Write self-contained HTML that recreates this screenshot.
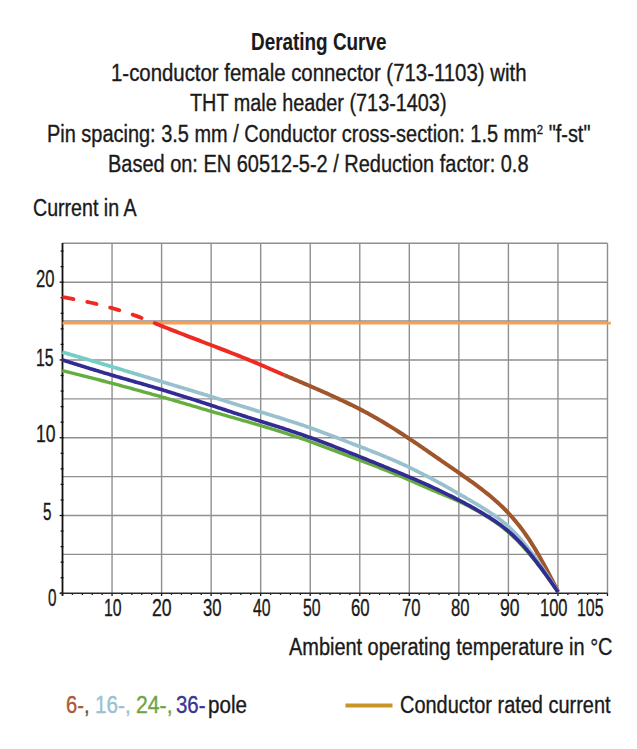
<!DOCTYPE html>
<html><head><meta charset="utf-8"><style>
html,body{margin:0;padding:0;background:#fff;}
body{width:637px;height:749px;overflow:hidden;font-family:"Liberation Sans",sans-serif;}
svg{display:block;}
</style></head><body>
<svg width="637" height="749" viewBox="0 0 637 749">
<defs><linearGradient id="lbg" gradientUnits="userSpaceOnUse" x1="120" y1="0" x2="150" y2="0"><stop offset="0" stop-color="#74cdc6"/><stop offset="1" stop-color="#98c0cf"/></linearGradient></defs>
<g stroke="#8f8f8f" stroke-width="1.4"><line x1="62.5" y1="554.41" x2="607.5" y2="554.41"/><line x1="62.5" y1="515.52" x2="607.5" y2="515.52"/><line x1="62.5" y1="476.63" x2="607.5" y2="476.63"/><line x1="62.5" y1="437.74" x2="607.5" y2="437.74"/><line x1="62.5" y1="398.85" x2="607.5" y2="398.85"/><line x1="62.5" y1="359.96" x2="607.5" y2="359.96"/><line x1="62.5" y1="321.07" x2="607.5" y2="321.07"/><line x1="62.5" y1="282.18" x2="607.5" y2="282.18"/><line x1="62.5" y1="243.29" x2="607.5" y2="243.29"/><line x1="112.05" y1="243.3" x2="112.05" y2="593.3"/><line x1="161.59" y1="243.3" x2="161.59" y2="593.3"/><line x1="211.14" y1="243.3" x2="211.14" y2="593.3"/><line x1="260.68" y1="243.3" x2="260.68" y2="593.3"/><line x1="310.23" y1="243.3" x2="310.23" y2="593.3"/><line x1="359.77" y1="243.3" x2="359.77" y2="593.3"/><line x1="409.31" y1="243.3" x2="409.31" y2="593.3"/><line x1="458.86" y1="243.3" x2="458.86" y2="593.3"/><line x1="508.41" y1="243.3" x2="508.41" y2="593.3"/><line x1="557.95" y1="243.3" x2="557.95" y2="593.3"/><line x1="607.50" y1="243.3" x2="607.50" y2="593.3"/></g>
<g stroke="#111" stroke-width="1.3"><line x1="59.60" y1="593.30" x2="63.5" y2="593.30"/><line x1="60.60" y1="577.74" x2="63.5" y2="577.74"/><line x1="60.60" y1="562.19" x2="63.5" y2="562.19"/><line x1="60.60" y1="546.63" x2="63.5" y2="546.63"/><line x1="60.60" y1="531.08" x2="63.5" y2="531.08"/><line x1="59.60" y1="515.52" x2="63.5" y2="515.52"/><line x1="60.60" y1="499.96" x2="63.5" y2="499.96"/><line x1="60.60" y1="484.41" x2="63.5" y2="484.41"/><line x1="60.60" y1="468.85" x2="63.5" y2="468.85"/><line x1="60.60" y1="453.30" x2="63.5" y2="453.30"/><line x1="59.60" y1="437.74" x2="63.5" y2="437.74"/><line x1="60.60" y1="422.18" x2="63.5" y2="422.18"/><line x1="60.60" y1="406.63" x2="63.5" y2="406.63"/><line x1="60.60" y1="391.07" x2="63.5" y2="391.07"/><line x1="60.60" y1="375.52" x2="63.5" y2="375.52"/><line x1="59.60" y1="359.96" x2="63.5" y2="359.96"/><line x1="60.60" y1="344.40" x2="63.5" y2="344.40"/><line x1="60.60" y1="328.85" x2="63.5" y2="328.85"/><line x1="60.60" y1="313.29" x2="63.5" y2="313.29"/><line x1="60.60" y1="297.74" x2="63.5" y2="297.74"/><line x1="59.60" y1="282.18" x2="63.5" y2="282.18"/><line x1="60.60" y1="266.62" x2="63.5" y2="266.62"/><line x1="60.60" y1="251.07" x2="63.5" y2="251.07"/><line x1="62.50" y1="593.3" x2="62.50" y2="596.00"/><line x1="72.41" y1="593.3" x2="72.41" y2="594.90"/><line x1="82.32" y1="593.3" x2="82.32" y2="594.90"/><line x1="92.23" y1="593.3" x2="92.23" y2="594.90"/><line x1="102.14" y1="593.3" x2="102.14" y2="594.90"/><line x1="112.05" y1="593.3" x2="112.05" y2="596.00"/><line x1="121.95" y1="593.3" x2="121.95" y2="594.90"/><line x1="131.86" y1="593.3" x2="131.86" y2="594.90"/><line x1="141.77" y1="593.3" x2="141.77" y2="594.90"/><line x1="151.68" y1="593.3" x2="151.68" y2="594.90"/><line x1="161.59" y1="593.3" x2="161.59" y2="596.00"/><line x1="171.50" y1="593.3" x2="171.50" y2="594.90"/><line x1="181.41" y1="593.3" x2="181.41" y2="594.90"/><line x1="191.32" y1="593.3" x2="191.32" y2="594.90"/><line x1="201.23" y1="593.3" x2="201.23" y2="594.90"/><line x1="211.14" y1="593.3" x2="211.14" y2="596.00"/><line x1="221.04" y1="593.3" x2="221.04" y2="594.90"/><line x1="230.95" y1="593.3" x2="230.95" y2="594.90"/><line x1="240.86" y1="593.3" x2="240.86" y2="594.90"/><line x1="250.77" y1="593.3" x2="250.77" y2="594.90"/><line x1="260.68" y1="593.3" x2="260.68" y2="596.00"/><line x1="270.59" y1="593.3" x2="270.59" y2="594.90"/><line x1="280.50" y1="593.3" x2="280.50" y2="594.90"/><line x1="290.41" y1="593.3" x2="290.41" y2="594.90"/><line x1="300.32" y1="593.3" x2="300.32" y2="594.90"/><line x1="310.23" y1="593.3" x2="310.23" y2="596.00"/><line x1="320.13" y1="593.3" x2="320.13" y2="594.90"/><line x1="330.04" y1="593.3" x2="330.04" y2="594.90"/><line x1="339.95" y1="593.3" x2="339.95" y2="594.90"/><line x1="349.86" y1="593.3" x2="349.86" y2="594.90"/><line x1="359.77" y1="593.3" x2="359.77" y2="596.00"/><line x1="369.68" y1="593.3" x2="369.68" y2="594.90"/><line x1="379.59" y1="593.3" x2="379.59" y2="594.90"/><line x1="389.50" y1="593.3" x2="389.50" y2="594.90"/><line x1="399.41" y1="593.3" x2="399.41" y2="594.90"/><line x1="409.31" y1="593.3" x2="409.31" y2="596.00"/><line x1="419.22" y1="593.3" x2="419.22" y2="594.90"/><line x1="429.13" y1="593.3" x2="429.13" y2="594.90"/><line x1="439.04" y1="593.3" x2="439.04" y2="594.90"/><line x1="448.95" y1="593.3" x2="448.95" y2="594.90"/><line x1="458.86" y1="593.3" x2="458.86" y2="596.00"/><line x1="468.77" y1="593.3" x2="468.77" y2="594.90"/><line x1="478.68" y1="593.3" x2="478.68" y2="594.90"/><line x1="488.59" y1="593.3" x2="488.59" y2="594.90"/><line x1="498.50" y1="593.3" x2="498.50" y2="594.90"/><line x1="508.41" y1="593.3" x2="508.41" y2="596.00"/><line x1="518.31" y1="593.3" x2="518.31" y2="594.90"/><line x1="528.22" y1="593.3" x2="528.22" y2="594.90"/><line x1="538.13" y1="593.3" x2="538.13" y2="594.90"/><line x1="548.04" y1="593.3" x2="548.04" y2="594.90"/><line x1="557.95" y1="593.3" x2="557.95" y2="596.00"/><line x1="567.86" y1="593.3" x2="567.86" y2="594.90"/><line x1="577.77" y1="593.3" x2="577.77" y2="594.90"/><line x1="587.68" y1="593.3" x2="587.68" y2="594.90"/><line x1="597.59" y1="593.3" x2="597.59" y2="594.90"/><line x1="607.50" y1="593.3" x2="607.50" y2="596.00"/></g>
<line x1="62.5" y1="243" x2="62.5" y2="595.5" stroke="#111" stroke-width="1.8"/>
<line x1="60" y1="593.3" x2="607.6" y2="593.3" stroke="#2a2a2a" stroke-width="1.6"/>
<line x1="62.5" y1="323.1" x2="610.8" y2="323.1" stroke="#f7a052" stroke-width="2.6"/>
<path d="M62.30,370.69 L64.30,371.19 L66.30,371.69 L68.30,372.18 L70.30,372.68 L72.30,373.18 L74.30,373.67 L76.30,374.17 L78.30,374.67 L80.30,375.17 L82.30,375.67 L84.30,376.17 L86.30,376.67 L88.30,377.18 L90.30,377.68 L92.30,378.19 L94.30,378.70 L96.30,379.21 L98.30,379.72 L100.30,380.23 L102.30,380.75 L104.30,381.26 L106.30,381.78 L108.30,382.31 L110.30,382.83 L112.30,383.36 L114.30,383.89 L116.30,384.42 L118.30,384.95 L120.30,385.49 L122.30,386.03 L124.30,386.57 L126.30,387.11 L128.30,387.65 L130.30,388.20 L132.30,388.75 L134.30,389.29 L136.30,389.84 L138.30,390.39 L140.30,390.95 L142.30,391.50 L144.30,392.05 L146.30,392.60 L148.30,393.16 L150.30,393.71 L152.30,394.27 L154.30,394.82 L156.30,395.38 L158.30,395.94 L160.30,396.50 L162.30,397.06 L164.30,397.63 L166.30,398.20 L168.30,398.78 L170.30,399.35 L172.30,399.93 L174.30,400.51 L176.30,401.10 L178.30,401.68 L180.30,402.27 L182.30,402.86 L184.30,403.45 L186.30,404.04 L188.30,404.63 L190.30,405.22 L192.30,405.81 L194.30,406.40 L196.30,406.99 L198.30,407.58 L200.30,408.17 L202.30,408.76 L204.30,409.35 L206.30,409.93 L208.30,410.52 L210.30,411.10 L212.30,411.68 L214.30,412.26 L216.30,412.84 L218.30,413.41 L220.30,413.99 L222.30,414.56 L224.30,415.13 L226.30,415.70 L228.30,416.27 L230.30,416.84 L232.30,417.41 L234.30,417.98 L236.30,418.55 L238.30,419.12 L240.30,419.69 L242.30,420.26 L244.30,420.83 L246.30,421.41 L248.30,421.98 L250.30,422.56 L252.30,423.13 L254.30,423.71 L256.30,424.30 L258.30,424.88 L260.30,425.47 L262.30,426.06 L264.30,426.65 L266.30,427.25 L268.30,427.85 L270.30,428.46 L272.30,429.07 L274.30,429.68 L276.30,430.30 L278.30,430.93 L280.30,431.56 L282.30,432.19 L284.30,432.83 L286.30,433.47 L288.30,434.12 L290.30,434.77 L292.30,435.43 L294.30,436.10 L296.30,436.77 L298.30,437.45 L300.30,438.13 L302.30,438.82 L304.30,439.51 L306.30,440.22 L308.30,440.93 L310.30,441.64 L312.30,442.37 L314.30,443.09 L316.30,443.83 L318.30,444.57 L320.30,445.32 L322.30,446.07 L324.30,446.82 L326.30,447.58 L328.30,448.33 L330.30,449.10 L332.30,449.86 L334.30,450.62 L336.30,451.38 L338.30,452.15 L340.30,452.91 L342.30,453.67 L344.30,454.43 L346.30,455.18 L348.30,455.93 L350.30,456.68 L352.30,457.43 L354.30,458.17 L356.30,458.91 L358.30,459.65 L360.30,460.40 L362.30,461.15 L364.30,461.90 L366.30,462.65 L368.30,463.41 L370.30,464.17 L372.30,464.94 L374.30,465.71 L376.30,466.49 L378.30,467.27 L380.30,468.05 L382.30,468.84 L384.30,469.64 L386.30,470.44 L388.30,471.24 L390.30,472.05 L392.30,472.87 L394.30,473.69 L396.30,474.52 L398.30,475.36 L400.30,476.20 L402.30,477.04 L404.30,477.90 L406.30,478.76 L408.30,479.62 L410.30,480.50 L412.30,481.37 L414.30,482.26 L416.30,483.15 L418.30,484.03 L420.30,484.92 L422.30,485.81 L424.30,486.68 L426.30,487.56 L428.30,488.42 L430.30,489.28 L432.30,490.12 L434.30,490.96 L436.30,491.79 L438.30,492.62 L440.30,493.44 L442.30,494.27 L444.30,495.09 L446.30,495.93 L448.30,496.77 L450.30,497.62 L452.30,498.49 L454.30,499.37 L456.30,500.26 L458.30,501.18 L460.30,502.12 L462.30,503.07 L464.30,504.05 L466.30,505.05 L468.30,506.07 L470.30,507.11 L472.30,508.17 L474.30,509.25 L476.30,510.36 L478.30,511.48 L480.30,512.63 L482.30,513.81 L484.30,515.00 L486.30,516.22 L488.30,517.47 L490.30,518.75 L492.30,520.06 L494.30,521.41 L496.30,522.80 L498.30,524.23 L500.30,525.71 L502.30,527.25 L504.30,528.83 L506.30,530.48 L508.30,532.18 L510.30,533.95 L512.30,535.79 L514.30,537.69 L516.30,539.65 L518.30,541.67 L520.30,543.76 L522.30,545.90 L524.30,548.11 L526.30,550.37 L528.30,552.70 L530.30,555.08 L532.30,557.51 L534.30,559.99 L536.30,562.52 L538.30,565.09 L540.30,567.70 L542.30,570.34 L544.30,573.02 L546.30,575.73 L548.30,578.46 L550.30,581.22 L552.30,583.99 L554.30,586.77 L556.30,589.56 L558.10,592.08" fill="none" stroke="#64ae40" stroke-width="3.4"/>
<path d="M62.20,296.93 L64.20,297.29 L66.20,297.66 L68.20,298.03 L70.20,298.41 L72.20,298.79 L74.20,299.17 L76.20,299.56 L78.20,299.96 L80.20,300.37 L82.20,300.78 L84.20,301.20 L86.20,301.63 L88.20,302.07 L90.20,302.52 L92.20,302.98 L94.20,303.45 L96.20,303.93 L98.20,304.42 L100.20,304.92 L102.20,305.43 L104.20,305.96 L106.20,306.49 L108.20,307.04 L110.20,307.60 L112.20,308.17 L114.20,308.74 L116.20,309.33 L118.20,309.94 L120.20,310.55 L122.20,311.17 L124.20,311.81 L126.20,312.46 L128.20,313.12 L130.20,313.80 L132.20,314.49 L134.20,315.19 L136.20,315.91 L138.20,316.65 L140.20,317.40 L142.20,318.16 L144.20,318.93 L146.20,319.72 L148.20,320.51 L150.20,321.31 L152.20,322.12 L154.20,322.92 L156.20,323.73" fill="none" stroke="#ee2a22" stroke-width="3.8" stroke-linecap="round" stroke-dasharray="9.6,14" stroke-dashoffset="-1.9"/>
<path d="M156.20,323.73 L158.20,324.54 L160.20,325.34 L162.20,326.14 L164.20,326.94 L166.20,327.74 L168.20,328.53 L170.20,329.32 L172.20,330.11 L174.20,330.89 L176.20,331.68 L178.20,332.46 L180.20,333.23 L182.20,334.01 L184.20,334.78 L186.20,335.56 L188.20,336.33 L190.20,337.10 L192.20,337.87 L194.20,338.63 L196.20,339.40 L198.20,340.17 L200.20,340.93 L202.20,341.70 L204.20,342.46 L206.20,343.22 L208.20,343.99 L210.20,344.75 L212.20,345.52 L214.20,346.28 L216.20,347.05 L218.20,347.82 L220.20,348.59 L222.20,349.36 L224.20,350.13 L226.20,350.90 L228.20,351.68 L230.20,352.46 L232.20,353.24 L234.20,354.02 L236.20,354.81 L238.20,355.60 L240.20,356.40 L242.20,357.20 L244.20,358.00 L246.20,358.81 L248.20,359.62 L250.20,360.44 L252.20,361.26 L254.20,362.09 L256.20,362.92 L258.20,363.76 L260.20,364.61 L262.20,365.47 L264.20,366.32 L266.20,367.19 L268.20,368.06 L270.20,368.93 L272.20,369.80 L274.20,370.68 L276.20,371.55 L278.20,372.43 L280.20,373.30 L282.20,374.17 L284.20,375.03" fill="none" stroke="#ee2a22" stroke-width="3.9"/>
<path d="M284.20,375.03 L286.20,375.90 L288.20,376.75 L290.20,377.61 L292.20,378.46 L294.20,379.30 L296.20,380.15 L298.20,381.00 L300.20,381.84 L302.20,382.69 L304.20,383.54 L306.20,384.39 L308.20,385.25 L310.20,386.11 L312.20,386.97 L314.20,387.84 L316.20,388.71 L318.20,389.59 L320.20,390.47 L322.20,391.36 L324.20,392.25 L326.20,393.15 L328.20,394.05 L330.20,394.96 L332.20,395.87 L334.20,396.79 L336.20,397.71 L338.20,398.64 L340.20,399.57 L342.20,400.51 L344.20,401.45 L346.20,402.40 L348.20,403.36 L350.20,404.33 L352.20,405.31 L354.20,406.30 L356.20,407.31 L358.20,408.32 L360.20,409.35 L362.20,410.39 L364.20,411.44 L366.20,412.51 L368.20,413.60 L370.20,414.69 L372.20,415.80 L374.20,416.93 L376.20,418.07 L378.20,419.22 L380.20,420.38 L382.20,421.56 L384.20,422.75 L386.20,423.96 L388.20,425.18 L390.20,426.41 L392.20,427.65 L394.20,428.90 L396.20,430.17 L398.20,431.44 L400.20,432.73 L402.20,434.03 L404.20,435.33 L406.20,436.65 L408.20,437.97 L410.20,439.31 L412.20,440.65 L414.20,442.00 L416.20,443.36 L418.20,444.72 L420.20,446.09 L422.20,447.46 L424.20,448.84 L426.20,450.22 L428.20,451.60 L430.20,452.98 L432.20,454.36 L434.20,455.75 L436.20,457.13 L438.20,458.51 L440.20,459.90 L442.20,461.28 L444.20,462.66 L446.20,464.03 L448.20,465.41 L450.20,466.79 L452.20,468.17 L454.20,469.55 L456.20,470.93 L458.20,472.32 L460.20,473.71 L462.20,475.11 L464.20,476.52 L466.20,477.93 L468.20,479.36 L470.20,480.79 L472.20,482.24 L474.20,483.69 L476.20,485.17 L478.20,486.65 L480.20,488.16 L482.20,489.69 L484.20,491.24 L486.20,492.82 L488.20,494.43 L490.20,496.07 L492.20,497.74 L494.20,499.46 L496.20,501.22 L498.20,503.02 L500.20,504.87 L502.20,506.78 L504.20,508.75 L506.20,510.77 L508.20,512.87 L510.20,515.03 L512.20,517.26 L514.20,519.58 L516.20,521.97 L518.20,524.44 L520.20,527.00 L522.20,529.65 L524.20,532.40 L526.20,535.24 L528.20,538.18 L530.20,541.21 L532.20,544.34 L534.20,547.57 L536.20,550.89 L538.20,554.30 L540.20,557.79 L542.20,561.36 L544.20,565.01 L546.20,568.72 L548.20,572.49 L550.20,576.31 L552.20,580.17 L554.20,584.07 L556.20,588.00 L558.10,591.74" fill="none" stroke="#a0552a" stroke-width="4.0"/>
<path d="M62.30,352.10 L64.30,352.68 L66.30,353.27 L68.30,353.86 L70.30,354.44 L72.30,355.03 L74.30,355.61 L76.30,356.20 L78.30,356.79 L80.30,357.37 L82.30,357.96 L84.30,358.55 L86.30,359.14 L88.30,359.72 L90.30,360.31 L92.30,360.90 L94.30,361.49 L96.30,362.08 L98.30,362.67 L100.30,363.26 L102.30,363.86 L104.30,364.45 L106.30,365.04 L108.30,365.64 L110.30,366.23 L112.30,366.83 L114.30,367.43 L116.30,368.02 L118.30,368.62 L120.30,369.22 L122.30,369.82 L124.30,370.42 L126.30,371.02 L128.30,371.62 L130.30,372.22 L132.30,372.82 L134.30,373.43 L136.30,374.03 L138.30,374.63 L140.30,375.23 L142.30,375.83 L144.30,376.43 L146.30,377.03 L148.30,377.63 L150.30,378.23 L152.30,378.83 L154.30,379.42 L156.30,380.02 L158.30,380.62 L160.30,381.21 L162.30,381.81 L164.30,382.41 L166.30,383.01 L168.30,383.61 L170.30,384.20 L172.30,384.80 L174.30,385.40 L176.30,386.00 L178.30,386.61 L180.30,387.21 L182.30,387.81 L184.30,388.41 L186.30,389.02 L188.30,389.62 L190.30,390.22 L192.30,390.83 L194.30,391.44 L196.30,392.05 L198.30,392.65 L200.30,393.26 L202.30,393.88 L204.30,394.49 L206.30,395.10 L208.30,395.71 L210.30,396.33 L212.30,396.95 L214.30,397.56 L216.30,398.18 L218.30,398.80 L220.30,399.42 L222.30,400.04 L224.30,400.67 L226.30,401.29 L228.30,401.91 L230.30,402.53 L232.30,403.16 L234.30,403.78 L236.30,404.40 L238.30,405.03 L240.30,405.65 L242.30,406.27 L244.30,406.89 L246.30,407.51 L248.30,408.13 L250.30,408.75 L252.30,409.37 L254.30,409.99 L256.30,410.61 L258.30,411.22 L260.30,411.84 L262.30,412.45 L264.30,413.07 L266.30,413.68 L268.30,414.30 L270.30,414.91 L272.30,415.53 L274.30,416.15 L276.30,416.76 L278.30,417.38 L280.30,418.01 L282.30,418.63 L284.30,419.26 L286.30,419.89 L288.30,420.53 L290.30,421.17 L292.30,421.81 L294.30,422.46 L296.30,423.11 L298.30,423.77 L300.30,424.44 L302.30,425.11 L304.30,425.79 L306.30,426.47 L308.30,427.16 L310.30,427.86 L312.30,428.57 L314.30,429.28 L316.30,430.00 L318.30,430.73 L320.30,431.46 L322.30,432.20 L324.30,432.94 L326.30,433.69 L328.30,434.44 L330.30,435.20 L332.30,435.96 L334.30,436.73 L336.30,437.49 L338.30,438.26 L340.30,439.03 L342.30,439.80 L344.30,440.57 L346.30,441.35 L348.30,442.12 L350.30,442.89 L352.30,443.66 L354.30,444.43 L356.30,445.21 L358.30,445.98 L360.30,446.75 L362.30,447.53 L364.30,448.30 L366.30,449.08 L368.30,449.87 L370.30,450.65 L372.30,451.44 L374.30,452.24 L376.30,453.04 L378.30,453.84 L380.30,454.65 L382.30,455.47 L384.30,456.29 L386.30,457.13 L388.30,457.96 L390.30,458.81 L392.30,459.67 L394.30,460.53 L396.30,461.41 L398.30,462.29 L400.30,463.19 L402.30,464.09 L404.30,465.01 L406.30,465.94 L408.30,466.88 L410.30,467.84 L412.30,468.81 L414.30,469.79 L416.30,470.78 L418.30,471.78 L420.30,472.79 L422.30,473.81 L424.30,474.85 L426.30,475.88 L428.30,476.93 L430.30,477.98 L432.30,479.04 L434.30,480.10 L436.30,481.18 L438.30,482.26 L440.30,483.35 L442.30,484.46 L444.30,485.57 L446.30,486.70 L448.30,487.82 L450.30,488.96 L452.30,490.10 L454.30,491.24 L456.30,492.38 L458.30,493.52 L460.30,494.66 L462.30,495.80 L464.30,496.94 L466.30,498.09 L468.30,499.24 L470.30,500.40 L472.30,501.57 L474.30,502.74 L476.30,503.93 L478.30,505.13 L480.30,506.34 L482.30,507.57 L484.30,508.81 L486.30,510.08 L488.30,511.37 L490.30,512.68 L492.30,514.01 L494.30,515.38 L496.30,516.79 L498.30,518.24 L500.30,519.75 L502.30,521.32 L504.30,522.95 L506.30,524.65 L508.30,526.43 L510.30,528.28 L512.30,530.22 L514.30,532.23 L516.30,534.33 L518.30,536.50 L520.30,538.74 L522.30,541.06 L524.30,543.45 L526.30,545.91 L528.30,548.44 L530.30,551.03 L532.30,553.68 L534.30,556.40 L536.30,559.16 L538.30,561.98 L540.30,564.85 L542.30,567.76 L544.30,570.71 L546.30,573.70 L548.30,576.71 L550.30,579.76 L552.30,582.82 L554.30,585.90 L556.30,588.99 L558.10,591.77" fill="none" stroke="url(#lbg)" stroke-width="3.7"/>
<path d="M62.30,359.91 L64.30,360.54 L66.30,361.16 L68.30,361.79 L70.30,362.42 L72.30,363.05 L74.30,363.67 L76.30,364.30 L78.30,364.92 L80.30,365.55 L82.30,366.17 L84.30,366.79 L86.30,367.41 L88.30,368.03 L90.30,368.65 L92.30,369.26 L94.30,369.87 L96.30,370.48 L98.30,371.09 L100.30,371.70 L102.30,372.30 L104.30,372.90 L106.30,373.50 L108.30,374.09 L110.30,374.68 L112.30,375.27 L114.30,375.86 L116.30,376.44 L118.30,377.02 L120.30,377.60 L122.30,378.17 L124.30,378.74 L126.30,379.32 L128.30,379.89 L130.30,380.46 L132.30,381.03 L134.30,381.60 L136.30,382.18 L138.30,382.75 L140.30,383.33 L142.30,383.90 L144.30,384.48 L146.30,385.06 L148.30,385.65 L150.30,386.24 L152.30,386.83 L154.30,387.43 L156.30,388.02 L158.30,388.63 L160.30,389.23 L162.30,389.84 L164.30,390.45 L166.30,391.06 L168.30,391.67 L170.30,392.29 L172.30,392.91 L174.30,393.53 L176.30,394.15 L178.30,394.78 L180.30,395.41 L182.30,396.03 L184.30,396.67 L186.30,397.30 L188.30,397.93 L190.30,398.57 L192.30,399.21 L194.30,399.85 L196.30,400.49 L198.30,401.13 L200.30,401.78 L202.30,402.42 L204.30,403.07 L206.30,403.72 L208.30,404.37 L210.30,405.03 L212.30,405.68 L214.30,406.33 L216.30,406.99 L218.30,407.65 L220.30,408.30 L222.30,408.96 L224.30,409.62 L226.30,410.27 L228.30,410.93 L230.30,411.58 L232.30,412.24 L234.30,412.89 L236.30,413.54 L238.30,414.19 L240.30,414.84 L242.30,415.48 L244.30,416.12 L246.30,416.76 L248.30,417.40 L250.30,418.03 L252.30,418.66 L254.30,419.28 L256.30,419.91 L258.30,420.53 L260.30,421.15 L262.30,421.78 L264.30,422.40 L266.30,423.03 L268.30,423.66 L270.30,424.28 L272.30,424.92 L274.30,425.55 L276.30,426.18 L278.30,426.82 L280.30,427.46 L282.30,428.11 L284.30,428.76 L286.30,429.41 L288.30,430.06 L290.30,430.72 L292.30,431.39 L294.30,432.05 L296.30,432.73 L298.30,433.41 L300.30,434.09 L302.30,434.78 L304.30,435.48 L306.30,436.18 L308.30,436.89 L310.30,437.60 L312.30,438.32 L314.30,439.05 L316.30,439.79 L318.30,440.53 L320.30,441.27 L322.30,442.02 L324.30,442.78 L326.30,443.54 L328.30,444.31 L330.30,445.08 L332.30,445.85 L334.30,446.63 L336.30,447.41 L338.30,448.20 L340.30,448.98 L342.30,449.77 L344.30,450.56 L346.30,451.36 L348.30,452.15 L350.30,452.95 L352.30,453.74 L354.30,454.54 L356.30,455.34 L358.30,456.14 L360.30,456.94 L362.30,457.74 L364.30,458.54 L366.30,459.34 L368.30,460.15 L370.30,460.95 L372.30,461.76 L374.30,462.57 L376.30,463.38 L378.30,464.19 L380.30,465.00 L382.30,465.82 L384.30,466.63 L386.30,467.45 L388.30,468.27 L390.30,469.09 L392.30,469.92 L394.30,470.75 L396.30,471.58 L398.30,472.41 L400.30,473.24 L402.30,474.08 L404.30,474.92 L406.30,475.76 L408.30,476.61 L410.30,477.46 L412.30,478.31 L414.30,479.16 L416.30,480.02 L418.30,480.88 L420.30,481.75 L422.30,482.62 L424.30,483.50 L426.30,484.39 L428.30,485.30 L430.30,486.21 L432.30,487.14 L434.30,488.07 L436.30,489.01 L438.30,489.96 L440.30,490.92 L442.30,491.88 L444.30,492.85 L446.30,493.82 L448.30,494.79 L450.30,495.78 L452.30,496.77 L454.30,497.77 L456.30,498.78 L458.30,499.80 L460.30,500.84 L462.30,501.89 L464.30,502.95 L466.30,504.03 L468.30,505.12 L470.30,506.22 L472.30,507.34 L474.30,508.47 L476.30,509.61 L478.30,510.77 L480.30,511.94 L482.30,513.13 L484.30,514.33 L486.30,515.55 L488.30,516.79 L490.30,518.05 L492.30,519.34 L494.30,520.66 L496.30,522.02 L498.30,523.42 L500.30,524.86 L502.30,526.36 L504.30,527.91 L506.30,529.51 L508.30,531.18 L510.30,532.91 L512.30,534.70 L514.30,536.57 L516.30,538.51 L518.30,540.52 L520.30,542.60 L522.30,544.75 L524.30,546.97 L526.30,549.26 L528.30,551.61 L530.30,554.03 L532.30,556.51 L534.30,559.04 L536.30,561.63 L538.30,564.27 L540.30,566.95 L542.30,569.67 L544.30,572.43 L546.30,575.22 L548.30,578.04 L550.30,580.88 L552.30,583.73 L554.30,586.61 L556.30,589.48 L558.10,592.08" fill="none" stroke="#322b94" stroke-width="3.7"/>
<line x1="345.4" y1="705.4" x2="392.5" y2="705.4" stroke="#c99528" stroke-width="4"/><g font-family="Liberation Sans, sans-serif" stroke="#1a1a1a" stroke-width="0.35"><text x="251.00" y="49.50" font-size="23" font-weight="bold" fill="#1a1a1a" stroke-width="0.1" textLength="135.50" lengthAdjust="spacingAndGlyphs">Derating Curve</text><text x="111.00" y="81.00" font-size="23" font-weight="normal" fill="#1a1a1a" textLength="415.50" lengthAdjust="spacingAndGlyphs">1-conductor female connector (713-1103) with</text><text x="190.00" y="110.80" font-size="23" font-weight="normal" fill="#1a1a1a" textLength="256.51" lengthAdjust="spacingAndGlyphs">THT male header (713-1403)</text><text x="47.00" y="142.20" font-size="23" font-weight="normal" fill="#1a1a1a" textLength="543.50" lengthAdjust="spacingAndGlyphs">Pin spacing: 3.5 mm / Conductor cross-section: 1.5 mm<tspan font-size="13" dy="-8.5">2</tspan><tspan dy="8.5"> "f-st"</tspan></text><text x="108.00" y="171.50" font-size="23" font-weight="normal" fill="#1a1a1a" textLength="420.51" lengthAdjust="spacingAndGlyphs">Based on: EN 60512-5-2 / Reduction factor: 0.8</text><text x="33.00" y="216.30" font-size="23" font-weight="normal" fill="#1a1a1a" textLength="103.52" lengthAdjust="spacingAndGlyphs">Current in A</text><text x="289.00" y="654.50" font-size="23" font-weight="normal" fill="#1a1a1a" textLength="323.50" lengthAdjust="spacingAndGlyphs">Ambient operating temperature in °C</text><text x="66.00" y="712.60" font-size="23" font-weight="normal" fill="#1a1a1a" textLength="23.58" lengthAdjust="spacingAndGlyphs"><tspan fill="#ab5b36" stroke="#ab5b36">6-</tspan><tspan fill="#6a5530" stroke="#6a5530">,</tspan></text><text x="95.00" y="712.60" font-size="23" font-weight="normal" fill="#1a1a1a" textLength="35.66" lengthAdjust="spacingAndGlyphs"><tspan fill="#98c2d2" stroke="#98c2d2">16-,</tspan></text><text x="136.00" y="712.60" font-size="23" font-weight="normal" fill="#1a1a1a" textLength="36.56" lengthAdjust="spacingAndGlyphs"><tspan fill="#70a443" stroke="#70a443">24-,</tspan></text><text x="176.00" y="712.60" font-size="23" font-weight="normal" fill="#1a1a1a" textLength="29.50" lengthAdjust="spacingAndGlyphs"><tspan fill="#3c3590" stroke="#3c3590">36-</tspan></text><text x="208.00" y="713.00" font-size="23" font-weight="normal" fill="#1a1a1a" textLength="38.93" lengthAdjust="spacingAndGlyphs">pole</text><text x="400.00" y="713.10" font-size="23" font-weight="normal" fill="#1a1a1a" textLength="210.50" lengthAdjust="spacingAndGlyphs">Conductor rated current</text><text x="36.00" y="287.10" font-size="23" font-weight="normal" fill="#1a1a1a" textLength="18.49" lengthAdjust="spacingAndGlyphs">20</text><text x="36.00" y="365.80" font-size="23" font-weight="normal" fill="#1a1a1a" textLength="17.57" lengthAdjust="spacingAndGlyphs">15</text><text x="36.00" y="442.10" font-size="23" font-weight="normal" fill="#1a1a1a" textLength="19.52" lengthAdjust="spacingAndGlyphs">10</text><text x="43.00" y="520.40" font-size="23" font-weight="normal" fill="#1a1a1a" textLength="8.46" lengthAdjust="spacingAndGlyphs">5</text><text x="48.00" y="606.40" font-size="23" font-weight="normal" fill="#1a1a1a" textLength="8.48" lengthAdjust="spacingAndGlyphs">0</text><text x="104.00" y="615.90" font-size="23" font-weight="normal" fill="#1a1a1a" textLength="17.60" lengthAdjust="spacingAndGlyphs">10</text><text x="152.00" y="615.90" font-size="23" font-weight="normal" fill="#1a1a1a" textLength="19.67" lengthAdjust="spacingAndGlyphs">20</text><text x="203.00" y="615.90" font-size="23" font-weight="normal" fill="#1a1a1a" textLength="18.53" lengthAdjust="spacingAndGlyphs">30</text><text x="253.00" y="615.90" font-size="23" font-weight="normal" fill="#1a1a1a" textLength="17.51" lengthAdjust="spacingAndGlyphs">40</text><text x="303.00" y="615.90" font-size="23" font-weight="normal" fill="#1a1a1a" textLength="17.57" lengthAdjust="spacingAndGlyphs">50</text><text x="351.00" y="615.90" font-size="23" font-weight="normal" fill="#1a1a1a" textLength="18.66" lengthAdjust="spacingAndGlyphs">60</text><text x="402.00" y="615.90" font-size="23" font-weight="normal" fill="#1a1a1a" textLength="18.52" lengthAdjust="spacingAndGlyphs">70</text><text x="451.00" y="615.90" font-size="23" font-weight="normal" fill="#1a1a1a" textLength="18.52" lengthAdjust="spacingAndGlyphs">80</text><text x="500.00" y="615.90" font-size="23" font-weight="normal" fill="#1a1a1a" textLength="19.54" lengthAdjust="spacingAndGlyphs">90</text><text x="540.00" y="615.90" font-size="23" font-weight="normal" fill="#1a1a1a" textLength="27.52" lengthAdjust="spacingAndGlyphs">100</text><text x="577.00" y="615.90" font-size="23" font-weight="normal" fill="#1a1a1a" textLength="26.54" lengthAdjust="spacingAndGlyphs">105</text></g>
</svg>
</body></html>
